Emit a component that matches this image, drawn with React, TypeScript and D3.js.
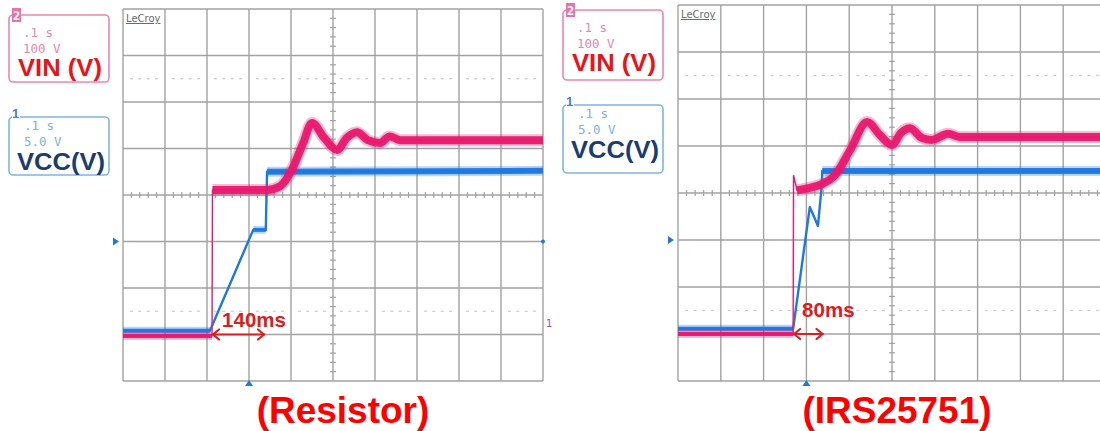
import React from 'react';
import * as d3 from 'd3';

type Pt = [number, number];

// Time in screen divisions (0.1 s/div), voltage in divisions (centre line = 0)
const resistorVin: Pt[] = [
  [0, -3.03], [2.12, -3.03], [2.13, 0.11], [3.43, 0.11], [3.74, 0.19], [4.02, 0.54],
  [4.29, 1.12], [4.5, 1.55], [4.79, 1.23], [5.1, 0.97], [5.33, 1.23], [5.57, 1.35],
  [5.83, 1.18], [6.12, 1.12], [6.35, 1.26], [6.6, 1.18], [10, 1.18],
];
const resistorVcc: Pt[] = [
  [0, -2.92], [2.07, -2.92], [3.1, -0.75], [3.4, -0.75], [3.43, 0.5], [10, 0.52],
];
const irsVin: Pt[] = [
  [0, -3.0], [2.69, -3.0], [2.7, 0.38], [2.78, 0.06], [3.08, 0.11], [3.36, 0.19],
  [3.67, 0.38], [4.02, 0.91], [4.42, 1.51], [4.72, 1.23], [5.0, 1.02], [5.21, 1.28],
  [5.42, 1.38], [5.7, 1.17], [5.93, 1.13], [6.31, 1.26], [6.59, 1.19], [10, 1.19],
];
const irsVcc: Pt[] = [
  [0, -2.89], [2.69, -2.89], [3.08, -0.3], [3.27, -0.7], [3.36, 0.17], [3.37, 0.47], [10, 0.47],
];

// Noisy (thick) portions of each trace, as time ranges
const resistorVinNoisy: [number, number][] = [[0, 2.12], [2.13, 10]];
const resistorVccNoisy: [number, number][] = [[0, 2.07], [3.1, 3.4], [3.43, 10]];
const irsVinNoisy: [number, number][] = [[0, 2.69], [2.78, 10]];
const irsVccNoisy: [number, number][] = [[0, 2.69], [3.37, 10]];

// Delay annotations: start time, end time, level, label, label time, label level
const resistorDelay = { t0: 2.12, t1: 3.38, v: -3.0, label: '140ms', lt: 2.36, lv: -2.84 };
const irsDelay = { t0: 2.69, t1: 3.4, v: -3.0, label: '80ms', lt: 2.9, lv: -2.64 };

const titles = ['(Resistor)', '(IRS25751)'];
const vinLegend = ['.1 s', '100 V', 'VIN (V)'];
const vccLegend = ['.1 s', '5.0 V', 'VCC(V)'];
const groundLevel = -1;
const triggerTime = 3;

const MAGENTA = '#e8186e';
const BLUE = '#1f78e0';
const GRID = '#a2a2a2';
const RED = '#d82020';

type Geom = { x: number; y: number; w: number; h: number };

function Scope(props: {
  g: Geom; vin: Pt[]; vcc: Pt[];
  vinBands: [number, number][]; vccBands: [number, number][];
  vinBandW: number[]; vccBandW: number[];
  delay: typeof resistorDelay; id: string;
}) {
  const { g, vin, vcc, vinBands, vccBands, vinBandW, vccBandW, delay, id } = props;
  const x = d3.scaleLinear().domain([0, 10]).range([g.x, g.x + g.w]);
  const y = d3.scaleLinear().domain([-4, 4]).range([g.y + g.h, g.y]);
  const line = d3.line<Pt>().x(d => x(d[0])).y(d => y(d[1]));
  const smooth = d3.line<Pt>().x(d => x(d[0])).y(d => y(d[1])).curve(d3.curveMonotoneX);
  const minorT = d3.range(0, 10.001, 0.2).filter(t => Math.abs(t - Math.round(t)) > 0.01);
  const minorV = d3.range(-4, 4.001, 0.2).filter(v => Math.abs(v - Math.round(v)) > 0.01);
  const bands = (pts: Pt[], ranges: [number, number][], ws: number[], color: string, gen: d3.Line<Pt>) =>
    ranges.map((r, i) => {
      const d = gen(pts.filter(p => p[0] >= r[0] - 1e-6 && p[0] <= r[1] + 1e-6)) || '';
      return (
        <g key={i}>
          <path d={d} fill="none" stroke={color} strokeWidth={ws[i] + 3} strokeLinejoin="round" opacity={0.3} />
          <path d={d} fill="none" stroke={color} strokeWidth={ws[i] - 1} strokeLinejoin="round" opacity={0.95} />
        </g>
      );
    });
  const ax0 = x(delay.t0), ax1 = x(delay.t1), ay = y(delay.v);
  return (
    <g>
      <defs>
        <clipPath id={id}><rect x={g.x} y={g.y} width={g.w} height={g.h} /></clipPath>
      </defs>
      <rect x={g.x} y={g.y} width={g.w} height={g.h} fill="#fff" />
      {[-2.5, 2.5].map(v => minorT.map(t => (
        <line key={`d${v}${t}`} x1={x(t) - 1.5} x2={x(t) + 1.5} y1={y(v)} y2={y(v)} stroke="#cacaca" strokeWidth={1.2} />
      )))}
      {d3.range(0, 11).map(t => (
        <line key={`v${t}`} x1={x(t)} x2={x(t)} y1={g.y} y2={g.y + g.h} stroke={GRID} strokeWidth={1.4} />
      ))}
      {d3.range(-4, 5).map(v => (
        <line key={`h${v}`} x1={g.x} x2={g.x + g.w} y1={y(v)} y2={y(v)} stroke={GRID} strokeWidth={1.4} />
      ))}
      {minorT.map(t => (
        <line key={`mt${t}`} x1={x(t)} x2={x(t)} y1={y(0) - 3} y2={y(0) + 3} stroke={GRID} strokeWidth={1.2} />
      ))}
      {minorV.map(v => (
        <line key={`mv${v}`} x1={x(5) - 3} x2={x(5) + 3} y1={y(v)} y2={y(v)} stroke={GRID} strokeWidth={1.2} />
      ))}
      <text x={g.x + 3} y={g.y + 13} fontFamily="DejaVu Sans" fontSize={10} fill="#6a6a6a" textDecoration="underline">LeCroy</text>
      <g clipPath={`url(#${id})`}>
        <path d={line(vcc) || ''} fill="none" stroke={BLUE} strokeWidth={2.4} strokeLinejoin="round" />
        {bands(vcc, vccBands, vccBandW, BLUE, line)}
        <path d={line(vin) || ''} fill="none" stroke={MAGENTA} strokeWidth={1.4} />
        {bands(vin, vinBands, vinBandW, MAGENTA, smooth)}
      </g>
      <path d={`M${g.x - 10},${y(groundLevel) - 4} L${g.x - 4},${y(groundLevel)} L${g.x - 10},${y(groundLevel) + 4} Z`} fill={BLUE} />
      <path d={`M${x(triggerTime) - 4},${g.y + g.h + 5} L${x(triggerTime)},${g.y + g.h - 1} L${x(triggerTime) + 4},${g.y + g.h + 5} Z`} fill={BLUE} />
      <circle cx={g.x + g.w} cy={y(groundLevel)} r={2} fill={BLUE} />
      <g stroke={RED} strokeWidth={2.2} fill="none" strokeLinecap="round">
        <line x1={ax0 + 1} x2={ax1 - 1} y1={ay} y2={ay} />
        <path d={`M${ax0 + 7},${ay - 5} L${ax0 + 1},${ay} L${ax0 + 7},${ay + 5}`} />
        <path d={`M${ax1 - 7},${ay - 5} L${ax1 - 1},${ay} L${ax1 - 7},${ay + 5}`} />
      </g>
      <text x={x(delay.lt)} y={y(delay.lv)} fontFamily="Liberation Sans, Arial, sans-serif" fontWeight="bold"
        fontSize={20.5} fill={RED}>{delay.label}</text>
    </g>
  );
}

function Legend(props: { x: number; y: number; y2: number; h1: number; h2: number }) {
  const { x, y, y2, h1, h2 } = props;
  const mono = 'DejaVu Sans Mono, monospace';
  const sans = 'Liberation Sans, Arial, sans-serif';
  return (
    <g>
      <rect x={x} y={y} width={100} height={h1} rx={4} fill="#fff" stroke="#ec86ae" strokeWidth={1.6} />
      <rect x={x + 3} y={y - 7} width={9} height={14} fill="#ee70a8" />
      <text x={x + 4} y={y + 5} fontFamily={mono} fontSize={12} fill="#fff" fontWeight="bold">2</text>
      <text x={x + 14} y={y + 22} fontFamily={mono} fontSize={12.5} fill="#ea86ac">{vinLegend[0]}</text>
      <text x={x + 14} y={y + 38} fontFamily={mono} fontSize={12.5} fill="#ea86ac">{vinLegend[1]}</text>
      <text x={x + 9} y={y + 61} fontFamily={sans} fontWeight="bold" fontSize={24} fill="#e8141c"
        textLength={84} lengthAdjust="spacingAndGlyphs">{vinLegend[2]}</text>

      <rect x={x} y={y2} width={100} height={h2} rx={4} fill="#fff" stroke="#80b4e4" strokeWidth={1.6} />
      <rect x={x + 3} y={y2 - 8} width={8} height={12} fill="#fff" />
      <text x={x + 3} y={y2 + 1} fontFamily={sans} fontSize={13} fill="#3a84d4" fontWeight="bold">1</text>
      <text x={x + 15} y={y2 + 13} fontFamily={mono} fontSize={12.5} fill="#80b0e0">{vccLegend[0]}</text>
      <text x={x + 15} y={y2 + 29} fontFamily={mono} fontSize={12.5} fill="#80b0e0">{vccLegend[1]}</text>
      <text x={x + 8} y={y2 + 53} fontFamily={sans} fontWeight="bold" fontSize={24} fill="#1d3b6e"
        textLength={88} lengthAdjust="spacingAndGlyphs">{vccLegend[2]}</text>
    </g>
  );
}

export default function App() {
  const left: Geom = { x: 123, y: 9, w: 420, h: 372 };
  const right: Geom = { x: 678, y: 5, w: 428, h: 376 };
  return (
    <svg width={1100} height={431} style={{ position: 'absolute', left: 0, top: 0, background: '#fff' }}>
      <rect x={0} y={0} width={1100} height={431} fill="#fff" />
      <Legend x={9} y={15} y2={117} h1={67} h2={58} />
      <Legend x={563} y={10} y2={105} h1={70} h2={68} />
      <Scope g={left} vin={resistorVin} vcc={resistorVcc} vinBands={resistorVinNoisy} vccBands={resistorVccNoisy}
        vinBandW={[5, 9]} vccBandW={[5, 5, 7]} delay={resistorDelay} id="clipL" />
      <Scope g={right} vin={irsVin} vcc={irsVcc} vinBands={irsVinNoisy} vccBands={irsVccNoisy}
        vinBandW={[5, 9]} vccBandW={[5, 7]} delay={irsDelay} id="clipR" />
      <text x={546} y={327} fontFamily="DejaVu Sans" fontSize={10} fill="#9050c8">1</text>
      <text x={343} y={423} textAnchor="middle" fontFamily="Liberation Sans, Arial, sans-serif" fontWeight="bold"
        fontSize={37} fill="#ff0000">{titles[0]}</text>
      <text x={897} y={423} textAnchor="middle" fontFamily="Liberation Sans, Arial, sans-serif" fontWeight="bold"
        fontSize={37} fill="#ff0000">{titles[1]}</text>
    </svg>
  );
}
